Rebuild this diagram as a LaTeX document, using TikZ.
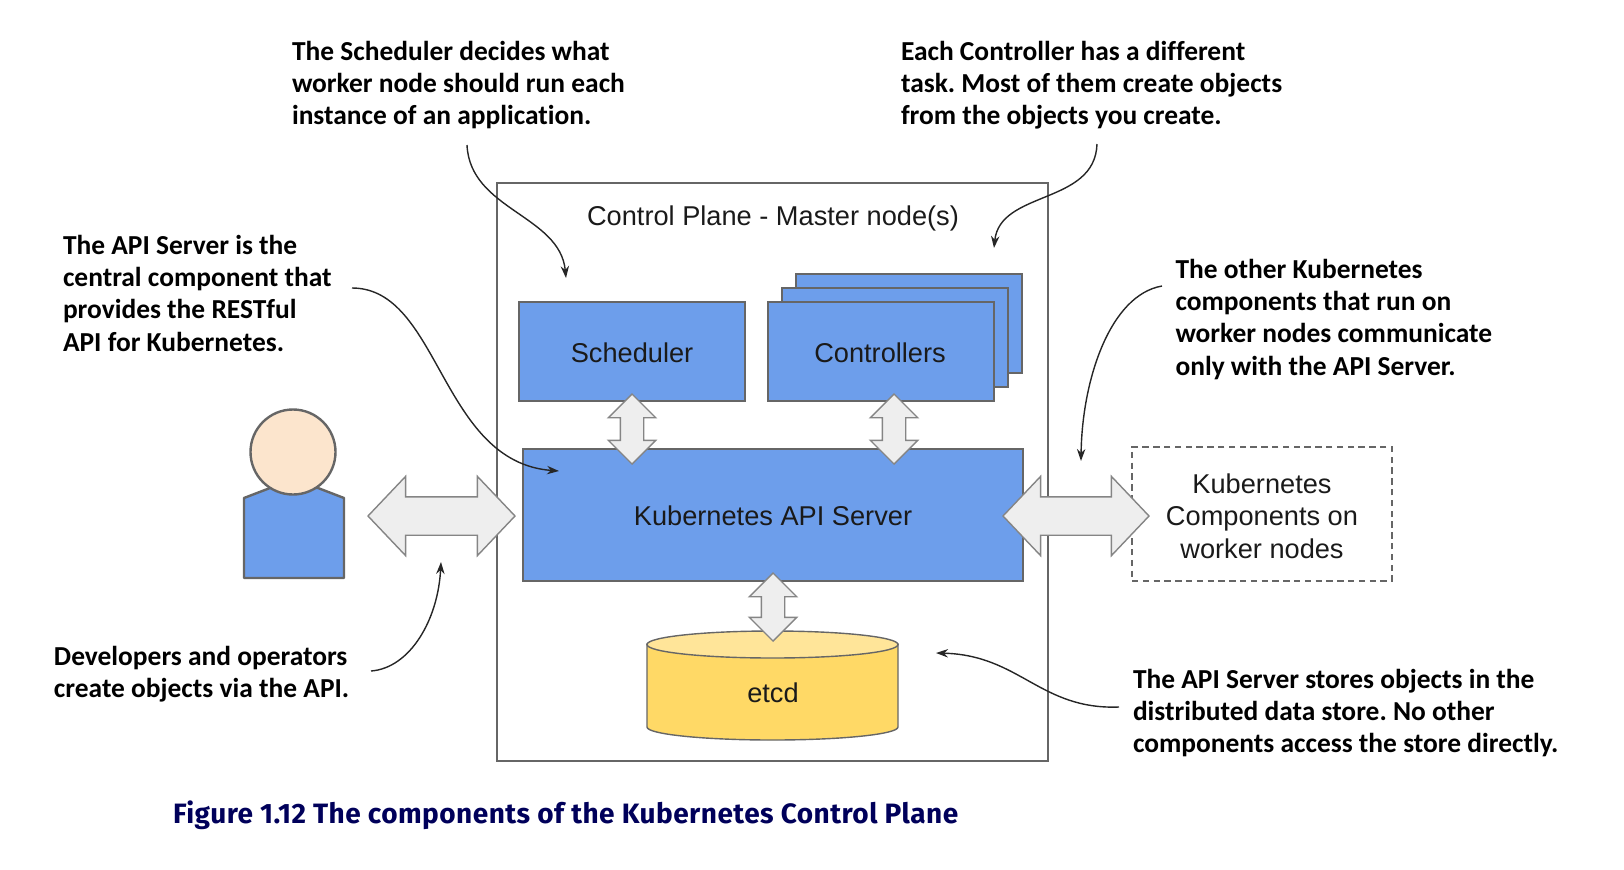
\documentclass[tikz,border=0pt]{standalone}
\usepackage{fontspec}
\setmainfont{Liberation Sans}
\newfontfamily\calloutfont[Ligatures=NoCommon]{Carlito}
\newfontfamily\captionfont[LetterSpace=1.7]{Fira Sans}
\usetikzlibrary{shapes.arrows,arrows.meta}
\definecolor{bluebox}{HTML}{6D9EEB}
\definecolor{boxline}{HTML}{666666}
\definecolor{arrowfill}{HTML}{EEEEEE}
\definecolor{arrowline}{HTML}{858585}
\definecolor{skin}{HTML}{FCE5CD}
\definecolor{dbbody}{HTML}{FFD966}
\definecolor{dbtop}{HTML}{FFE599}
\definecolor{labeltext}{HTML}{1A1A1A}
\definecolor{captionblue}{HTML}{00005A}
\tikzset{
  bluerect/.style={draw=boxline,fill=bluebox,line width=0.7pt,inner sep=0pt,outer sep=0pt,text=labeltext,text height=10.8pt,text depth=0pt,font=\fontsize{13.6pt}{16.2pt}\selectfont},
  plain label/.style={inner sep=0pt,outer sep=0pt,text=labeltext,font=\fontsize{13.6pt}{16.3pt}\selectfont,align=center},
  callout/.style={inner sep=0pt,outer sep=0pt,anchor=north west,align=left,text=black,
    font=\calloutfont\bfseries\fontsize{13.72pt}{16.15pt}\selectfont\frenchspacing,
    execute at begin node={\rule{0pt}{10pt}}},
  hdouble/.style={double arrow,double arrow tip angle=93,double arrow head extend=10.25pt,
    minimum width=39pt,inner xsep=0pt,inner ysep=9.25pt,outer sep=0pt,draw=arrowline,fill=arrowfill,line width=0.7pt},
  vdouble/.style={double arrow,rotate=90,double arrow tip angle=90,double arrow head extend=6pt,
    minimum width=23pt,inner xsep=0pt,inner ysep=5.5pt,outer sep=0pt,draw=arrowline,fill=arrowfill,line width=0.7pt},
  note arrow/.style={draw=black!85,line width=0.7pt,-{Stealth[length=6pt,width=4.2pt]}},
}
\begin{document}
\begin{tikzpicture}[x=0.5pt,y=-0.5pt]
\useasboundingbox (0,0) rectangle (1624,869);
% control plane frame
\node[draw=boxline,line width=0.7pt,inner sep=0pt,outer sep=0pt,minimum width=275.5pt,minimum height=289pt] (plane) at (772.5,472) {};
\node[plain label] (planetitle) at (773,218) {Control Plane - Master node(s)};
% components
\node[bluerect,minimum width=113pt,minimum height=49.5pt] (scheduler) at (632,351.5) {Scheduler};
\node[bluerect,minimum width=113pt,minimum height=49.5pt] (ctrlback) at (909,323.5) {};
\node[bluerect,minimum width=113pt,minimum height=49.5pt] (ctrlmid) at (895,337.5) {};
\node[bluerect,minimum width=113pt,minimum height=49.5pt] (controllers) at (881,351.5) {\hspace*{-1pt}Controllers};
\node[bluerect,minimum width=250pt,minimum height=66pt] (api) at (773,515) {Kubernetes API Server};
% etcd
\path[draw=boxline,line width=0.7pt,fill=dbbody] (647,644) -- (647,727) arc[x radius=125.5,y radius=13,start angle=180,end angle=0] -- (898,644) -- cycle;
\path[draw=boxline,line width=0.7pt,fill=dbtop] (772.5,644.5) ellipse[x radius=125.5,y radius=13.5];
\node[plain label] (etcd) at (773,693) {etcd};
% worker components
\node[draw=boxline,dashed,dash pattern=on 3.2pt off 2.2pt,line width=0.6pt,inner sep=0pt,outer sep=0pt,minimum width=130pt,minimum height=67pt] (workers) at (1262,514) {};
\node[plain label] (workerslabel) at (1262,516) {Kubernetes\\Components on\\worker nodes};
% user
\draw[draw=boxline,fill=bluebox,line width=1.2pt,line join=round] (244,498) -- (270,488) -- (318,488) -- (344,498) -- (344,578) -- (244,578) -- cycle;
\node[circle,draw=boxline,fill=skin,line width=1.2pt,inner sep=0pt,outer sep=0pt,minimum size=42.5pt] (user) at (293,452) {};
% double arrows
\node[hdouble,minimum height=73.5pt] (userapi) at (441.5,516) {};
\node[hdouble,minimum height=73pt] (workerapi) at (1076,516) {};
\node[vdouble,minimum height=35pt] (schedapi) at (632,429) {};
\node[vdouble,minimum height=35pt] (ctrlapi) at (894,429) {};
\node[vdouble,minimum height=34pt] (etcdapi) at (773,607) {};
% callouts
\node[callout] (noteSched) at (292,41) {The Scheduler decides what\\worker node should run each\\instance of an application.};
\node[callout] (noteCtrl) at (901,41) {Each Controller has a different\\task. Most of them create objects\\from the objects you create.};
\node[callout] (noteApi) at (63,235) {The API Server is the\\central component that\\provides the RESTful\\API for Kubernetes.};
\node[callout] (noteOther) at (1175.5,259) {The other Kubernetes\\components that run on\\worker nodes communicate\\only with the API Server.};
\node[callout] (noteDev) at (54,646) {Developers and operators\\create objects via the API.};
\node[callout] (noteStore) at (1133,669) {The API Server stores objects in the\\distributed data store. No other\\components access the store directly.};
% connector ends
\coordinate (a1) at (467,145); \coordinate (b1) at (566,278);
\coordinate (a2) at (1097,144); \coordinate (b2) at (994,248);
\coordinate (a3) at (352,288); \coordinate (b3) at (559,471);
\coordinate (a4) at (1162,286); \coordinate (b4) at (1081,461);
\coordinate (a5) at (371,671); \coordinate (b5) at (441,562);
\coordinate (a6) at (1119,707); \coordinate (b6) at (936,653);
\draw[note arrow] (a1) .. controls (470,210) and (560,215) .. (b1);
\draw[note arrow] (a2) .. controls (1095,205) and (1000,190) .. (b2);
\draw[note arrow] (a3) .. controls (440,288) and (440,462) .. (b3);
\draw[note arrow] (a4) .. controls (1110,295) and (1082,380) .. (b4);
\draw[note arrow] (a5) .. controls (410,668) and (438,620) .. (b5);
\draw[note arrow] (a6) .. controls (1040,710) and (1020,655) .. (b6);
% caption
\node[inner sep=0pt,outer sep=0pt,anchor=base west,text=captionblue,font=\captionfont\bfseries\fontsize{14pt}{16pt}\selectfont] (caption) at (173,823) {Figure 1.12 The components of the Kubernetes Control Plane};
\end{tikzpicture}
\end{document}
